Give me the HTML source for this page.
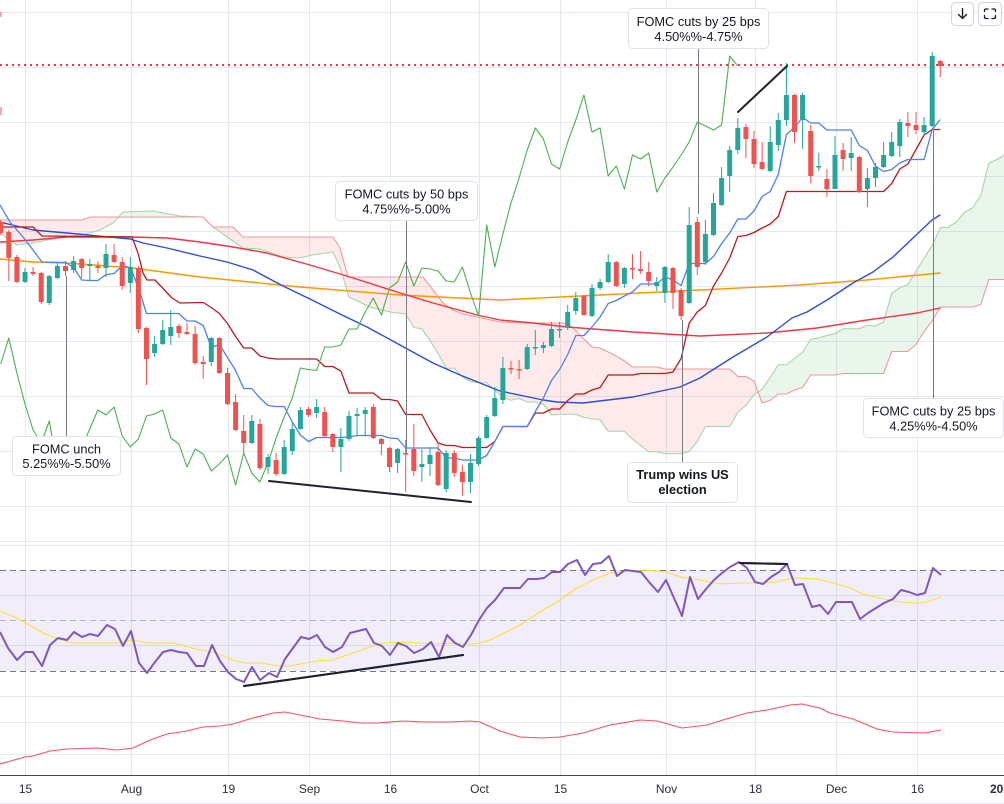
<!DOCTYPE html>
<html><head><meta charset="utf-8"><style>
html,body{margin:0;padding:0;background:#fff;}
svg{display:block;}
text{font-family:"Liberation Sans",Arial,sans-serif;}
</style></head><body>
<svg width="1004" height="804" viewBox="0 0 1004 804" xmlns="http://www.w3.org/2000/svg">
<defs>
<clipPath id="belowB"><polygon points="0,220 82,220 90,217 120,217 203,217 213,227 233,227 243,237 333,237 340,248 348,277 423,277 433,290 443,303 453,310 463,314 500,322 527,323 563,323 572,327 582,337 592,347 600,348 608.2,352 616.3,356 624.4,361 632.5,367 656.8,367 664.9,369 729.7,369 737.8,376.5 745.9,376.5 754,381 762.1,403 770.2,400.5 778.3,394 786.4,394 794.5,390 802.6,387.5 810.7,375 835,375 843.1,373.5 883.6,373.5 891.7,351.5 907.9,351.5 916,344.5 924.1,331.5 932.2,321 940.3,307 972.7,307 980.8,304.5 988.9,279.5 1005,279.5 1005,804 0,804"/></clipPath>
<clipPath id="aboveB"><polygon points="0,220 82,220 90,217 120,217 203,217 213,227 233,227 243,237 333,237 340,248 348,277 423,277 433,290 443,303 453,310 463,314 500,322 527,323 563,323 572,327 582,337 592,347 600,348 608.2,352 616.3,356 624.4,361 632.5,367 656.8,367 664.9,369 729.7,369 737.8,376.5 745.9,376.5 754,381 762.1,403 770.2,400.5 778.3,394 786.4,394 794.5,390 802.6,387.5 810.7,375 835,375 843.1,373.5 883.6,373.5 891.7,351.5 907.9,351.5 916,344.5 924.1,331.5 932.2,321 940.3,307 972.7,307 980.8,304.5 988.9,279.5 1005,279.5 1005,0 0,0"/></clipPath>
<clipPath id="belowA"><polygon points="0,233 17,245 33,243 57,238 82,235 100,230 113,223 123,212 153,211 180,216 203,217 213,227 243,248 260,249 283,257 300,258 312,255 333,252 340,267 349,297 370,307 390,312 397.6,313 405.7,314 413.8,327.5 421.9,329 430,340.5 438.1,353.5 446.2,368.25 454.3,368.25 462.4,377 470.5,381.75 478.6,382.75 486.7,382.75 494.8,390.5 502.9,397 511,400.25 519.1,398.25 527.2,402 535.3,402 543.4,404.25 551.5,415 559.6,414.25 567.7,414.25 575.8,414.25 583.9,417.5 592,418.75 600.1,419.75 608.2,431.25 616.3,431.25 624.4,431.25 632.5,439 640.6,445.5 648.7,451.75 656.8,451.75 664.9,453.75 673,453.75 681.1,453.75 689.2,451.5 697.3,441.5 705.4,426.5 713.5,426.5 721.6,426.5 729.7,426.5 737.8,412.25 745.9,405.5 754,394.75 762.1,389.25 770.2,377.5 778.3,364.75 786.4,364.75 794.5,358.5 802.6,352.25 810.7,339.25 818.8,337.75 826.9,335.5 835,333.5 843.1,328.75 851.2,328.75 859.3,328.75 867.4,325.25 875.5,326 883.6,322 891.7,293.25 899.8,287.75 907.9,284.5 916,271.25 924.1,258.25 932.2,245.5 940.3,227.75 948.4,227.25 956.5,221.75 964.6,212.25 972.7,207.75 980.8,195.5 988.9,163 997,159.5 1005.1,154.5 1005,804 0,804"/></clipPath>
<clipPath id="aboveA"><polygon points="0,233 17,245 33,243 57,238 82,235 100,230 113,223 123,212 153,211 180,216 203,217 213,227 243,248 260,249 283,257 300,258 312,255 333,252 340,267 349,297 370,307 390,312 397.6,313 405.7,314 413.8,327.5 421.9,329 430,340.5 438.1,353.5 446.2,368.25 454.3,368.25 462.4,377 470.5,381.75 478.6,382.75 486.7,382.75 494.8,390.5 502.9,397 511,400.25 519.1,398.25 527.2,402 535.3,402 543.4,404.25 551.5,415 559.6,414.25 567.7,414.25 575.8,414.25 583.9,417.5 592,418.75 600.1,419.75 608.2,431.25 616.3,431.25 624.4,431.25 632.5,439 640.6,445.5 648.7,451.75 656.8,451.75 664.9,453.75 673,453.75 681.1,453.75 689.2,451.5 697.3,441.5 705.4,426.5 713.5,426.5 721.6,426.5 729.7,426.5 737.8,412.25 745.9,405.5 754,394.75 762.1,389.25 770.2,377.5 778.3,364.75 786.4,364.75 794.5,358.5 802.6,352.25 810.7,339.25 818.8,337.75 826.9,335.5 835,333.5 843.1,328.75 851.2,328.75 859.3,328.75 867.4,325.25 875.5,326 883.6,322 891.7,293.25 899.8,287.75 907.9,284.5 916,271.25 924.1,258.25 932.2,245.5 940.3,227.75 948.4,227.25 956.5,221.75 964.6,212.25 972.7,207.75 980.8,195.5 988.9,163 997,159.5 1005.1,154.5 1005,0 0,0"/></clipPath>
</defs>
<rect x="0" y="0" width="1004" height="804" fill="#fff"/>

<!-- grid -->
<g stroke="#e3e9f0" stroke-width="1">
<path d="M25.5 0V775 M131.5 0V775 M228.5 0V775 M309.5 0V775 M390.5 0V775 M479.5 0V775 M560.5 0V775 M666.5 0V775 M755.5 0V775 M836.5 0V775 M917.5 0V775"/>
<path d="M0 12.5H1004 M0 67.5H1004 M0 122.5H1004 M0 176.5H1004 M0 231.5H1004 M0 286.5H1004 M0 341.5H1004 M0 396.5H1004 M0 451.5H1004 M0 506.5H1004 M0 541.5H1004 M0 545.5H1004 M0 595.5H1004 M0 645.5H1004 M0 696.5H1004 M0 722.5H1004 M0 754.5H1004 M0 803.5H1004"/>
</g>

<!-- RSI band -->
<rect x="0" y="570" width="1004" height="101" fill="#7e57c2" fill-opacity="0.1"/>
<g stroke-width="1" stroke-dasharray="6,4" fill="none">
<path d="M0 570.5H1004" stroke="#787b86"/>
<path d="M0 620.5H1004" stroke="#b2b5be"/>
<path d="M0 671.5H1004" stroke="#787b86"/>
</g>

<!-- cloud fills -->
<g clip-path="url(#belowB)"><rect x="0" y="0" width="1005" height="540" fill="#f23645" fill-opacity="0.11" clip-path="url(#aboveA)"/></g>
<g clip-path="url(#belowA)"><rect x="0" y="0" width="1005" height="540" fill="#43a047" fill-opacity="0.11" clip-path="url(#aboveB)"/></g>
<g fill="none" stroke-width="1.1" stroke-linejoin="round">
<polyline stroke="#a5d6a7" points="0,233 17,245 33,243 57,238 82,235 100,230 113,223 123,212 153,211 180,216 203,217 213,227 243,248 260,249 283,257 300,258 312,255 333,252 340,267 349,297 370,307 390,312 397.6,313 405.7,314 413.8,327.5 421.9,329 430,340.5 438.1,353.5 446.2,368.25 454.3,368.25 462.4,377 470.5,381.75 478.6,382.75 486.7,382.75 494.8,390.5 502.9,397 511,400.25 519.1,398.25 527.2,402 535.3,402 543.4,404.25 551.5,415 559.6,414.25 567.7,414.25 575.8,414.25 583.9,417.5 592,418.75 600.1,419.75 608.2,431.25 616.3,431.25 624.4,431.25 632.5,439 640.6,445.5 648.7,451.75 656.8,451.75 664.9,453.75 673,453.75 681.1,453.75 689.2,451.5 697.3,441.5 705.4,426.5 713.5,426.5 721.6,426.5 729.7,426.5 737.8,412.25 745.9,405.5 754,394.75 762.1,389.25 770.2,377.5 778.3,364.75 786.4,364.75 794.5,358.5 802.6,352.25 810.7,339.25 818.8,337.75 826.9,335.5 835,333.5 843.1,328.75 851.2,328.75 859.3,328.75 867.4,325.25 875.5,326 883.6,322 891.7,293.25 899.8,287.75 907.9,284.5 916,271.25 924.1,258.25 932.2,245.5 940.3,227.75 948.4,227.25 956.5,221.75 964.6,212.25 972.7,207.75 980.8,195.5 988.9,163 997,159.5 1005.1,154.5"/>
<polyline stroke="#ef9a9a" points="0,220 82,220 90,217 120,217 203,217 213,227 233,227 243,237 333,237 340,248 348,277 423,277 433,290 443,303 453,310 463,314 500,322 527,323 563,323 572,327 582,337 592,347 600,348 608.2,352 616.3,356 624.4,361 632.5,367 656.8,367 664.9,369 729.7,369 737.8,376.5 745.9,376.5 754,381 762.1,403 770.2,400.5 778.3,394 786.4,394 794.5,390 802.6,387.5 810.7,375 835,375 843.1,373.5 883.6,373.5 891.7,351.5 907.9,351.5 916,344.5 924.1,331.5 932.2,321 940.3,307 972.7,307 980.8,304.5 988.9,279.5 1005,279.5"/>
</g>

<!-- moving averages -->
<g fill="none" stroke-width="1.4" stroke-linejoin="round" stroke-linecap="round">
<polyline stroke="#ff9800" points="0,259 33,262 67,263 133,268 200,277 300,287 400,295 500,300 600,295 700,290 800,285 867,280 940,273"/>
<polyline stroke="#f23645" points="0,242 33,240 67,237 130,237 167,238 200,242 233,247 267,253 310,265 350,277 400,293 433,303 477,315 500,320 533,323 567,327 633,332 700,336 767,333 817,328 867,320 917,313 940,308"/>
<polyline stroke="#2b4ed8" points="0,222 33,230 67,233 130,239 143,243 167,248 200,256 227,262 253,270 283,286 312,300 340,314 367,327 400,345 433,363 460,375 480,383 500,391 543,400 557,402 583,403 633,397 680,387 700,378 733,357 767,337 792,318 807,312 827,300 853,283 873,272 893,257 913,238 932,220 940,215"/>
</g>

<!-- ichimoku lines -->
<g fill="none" stroke-width="1.3" stroke-linejoin="round">
<polyline stroke="#b71c1c" points="0,227 33,227 42,236 132,237 138,253 143,273 147,280 155,280 172,298 180,303 203.2,302.5 211.3,307.5 219.4,313.5 227.5,323.5 235.6,336.5 243.7,348 251.8,348 259.9,356 268,358 276.1,359 316.6,359 324.7,366.5 332.8,366.5 340.9,371 349,393 373.3,393 381.4,399.5 389.5,399.5 397.6,401 405.7,414.5 421.9,414.5 430,430 438.1,443 446.2,445.5 454.3,445.5 462.4,447.5 486.7,447.5 494.8,441.5 502.9,426.5 527.2,426.5 535.3,413 543.4,413 551.5,409 559.6,409 567.7,400.5 575.8,394 583.9,394 592,390 600.1,387.5 608.2,375 632.5,375 640.6,373.5 664.9,373.5 673,372 681.1,358.5 689.2,323 697.3,312 705.4,305.5 713.5,286 721.6,273 729.7,258 737.8,236.5 745.9,235.5 754,232.5 762.1,228 770.2,224 778.3,216.5 786.4,191.5 883.6,191.5 891.7,183.5 899.8,169 907.9,164 916,149.5 924.1,135 932.2,129.5 940.3,129.5"/>
<polyline stroke="#4f7ff5" points="0,205 10,222 23,237 33,250 42,262 65.5,262.5 73.6,267.5 81.7,280 89.8,280.5 97.9,280.5 106,274.5 114.1,273.5 122.2,266 130.3,267.5 138.4,287.5 146.5,313.5 178.9,313.5 187,321 195.1,321 203.2,325.5 211.3,347.5 219.4,344.5 227.5,357.5 235.6,370.5 243.7,388.5 251.8,388.5 259.9,398 268,405.5 276.1,406.5 284.2,406.5 292.3,422 300.4,435 308.5,441.5 316.6,437.5 340.9,437.5 349,437 357.1,435.5 381.4,435.5 389.5,438 397.6,438.5 405.7,448 438.1,448 446.2,458 454.3,458 462.4,460 478.6,460 486.7,455.5 494.8,441.5 502.9,426.5 527.2,426.5 535.3,411.5 543.4,398 551.5,380.5 559.6,369.5 567.7,354.5 575.8,335.5 583.9,335.5 592,327 600.1,317 608.2,303.5 616.3,300.5 624.4,296 632.5,292 640.6,284 656.8,284 664.9,277 673,280 681.1,285.5 689.2,263.5 705.4,263.5 713.5,256.5 721.6,243.5 729.7,233 737.8,219 745.9,219 754,211 762.1,196.5 770.2,191.5 778.3,174.5 786.4,134.5 794.5,127.5 802.6,117.5 810.7,123 818.8,123 826.9,130 851.2,130 859.3,145.5 867.4,150.5 875.5,166 883.6,171.5 891.7,169.5 899.8,163 907.9,159.5 924.1,159.5 932.2,129.5 940.3,119.5"/>
<polyline stroke="#4caf50" stroke-width="1.1" points="0.7,364 8.8,338 16.9,373 25,404 33.1,430 41.2,443 49.3,421 57.4,468 65.5,457 73.6,474 81.7,447 89.8,429 97.9,410 106,415 114.1,407 122.2,436 130.3,447 138.4,439 146.5,416 154.6,414 162.7,410 170.8,438 178.9,444 187,467 195.1,449 203.2,454 211.3,471 219.4,464 227.5,455 235.6,485 243.7,453 251.8,473 259.9,482 268,463 276.1,438 284.2,417 292.3,398 300.4,368 308.5,369.5 316.6,370.5 324.7,347 332.8,347 340.9,345 349,329 357.1,329 365.2,312 373.3,298 381.4,315 389.5,288 397.6,282 405.7,262 413.8,286 421.9,268 430,269 438.1,271 446.2,281 454.3,282 462.4,267 470.5,293 478.6,316 486.7,225 494.8,267 502.9,234 511,203 519.1,178 527.2,150 535.3,128 543.4,139 551.5,164 559.6,169 567.7,142 575.8,120 583.9,95 592,132 600.1,128 608.2,176 616.3,166 624.4,189 632.5,155 640.6,159 648.7,153 656.8,192 664.9,178 673,167 681.1,155 689.2,142 697.3,122 705.4,126 713.5,130 721.6,125 729.7,56 737.8,66"/>
</g>

<!-- price line -->
<path d="M0 65H1004" stroke="#f23645" stroke-width="2" stroke-dasharray="2,4"/>
<rect x="0" y="12" width="2" height="5" fill="#f7a8ae"/>
<rect x="0" y="107" width="2" height="8" fill="#f7a8ae"/>

<!-- candles -->
<g fill="none">
<path stroke="#26a69a" stroke-width="1" d="M25 268V283 M49.3 275V305 M57.4 262V279 M73.6 256V273 M89.8 259V280 M106 244V277 M130.3 257V293 M154.6 336V357 M162.7 320V345 M170.8 310V345 M211.3 337V366 M251.8 415V444 M268 454V474 M284.2 440V475 M292.3 423V455 M300.4 407V430 M316.6 399V418 M340.9 428V472 M349 411V441 M357.1 408V435 M365.2 407V435 M397.6 448V473 M421.9 449V482 M430 447V476 M446.2 450V492 M470.5 454V493 M478.6 436V466 M486.7 415V439 M494.8 387V417 M502.9 357V404 M527.2 344V370 M535.3 330V355 M543.4 342V353 M551.5 322V347 M559.6 322V338 M567.7 305V330 M575.8 292V315 M592 284V317 M600.1 279V290 M608.2 254V283 M624.4 267V288 M656.8 277V291 M664.9 266V303 M689.2 207V304 M705.4 220V265 M713.5 193V236 M721.6 167V206 M729.7 146V192 M737.8 118V154 M770.2 126V172 M778.3 113V151 M786.4 63V126 M802.6 93V149 M818.8 153V171 M835 136V189 M851.2 137V171 M867.4 168V207 M875.5 163V187 M883.6 142V168 M891.7 132V157 M899.8 119V157 M924.1 117V137 M932.2 52V127"/>
<path stroke="#26a69a" stroke-width="5" d="M25 272V282 M49.3 276V303 M57.4 266V278 M73.6 261V270 M89.8 264V266 M106 254V268 M130.3 267V283 M154.6 344V353 M162.7 330V344 M170.8 327V336 M211.3 338V362 M251.8 421V443 M268 457V467 M284.2 447V474 M292.3 429V451 M300.4 410V429 M316.6 407V413 M340.9 439V447 M349 416V439 M357.1 414V416 M365.2 410V414 M397.6 449V463 M421.9 464V467 M430 455V464 M446.2 453V489 M470.5 463V482 M478.6 438V464 M486.7 417V438 M494.8 398V416 M502.9 368V400 M527.2 347V369 M535.3 347V348.5 M543.4 345V348 M551.5 329V346 M559.6 329V330.5 M567.7 312V327 M575.8 298V311 M592 288V316 M600.1 282V288 M608.2 262V282 M624.4 268V284 M656.8 282V286 M664.9 267V293 M689.2 225V303 M705.4 234V262 M713.5 203V235 M721.6 178V205 M729.7 150V176 M737.8 128V150 M770.2 142V171 M778.3 120V145 M786.4 95V120 M802.6 95V120 M818.8 166V167.5 M835 155V189 M851.2 153V158 M867.4 178V189 M875.5 167V178 M883.6 155V167 M891.7 142V156 M899.8 122V146 M924.1 125V132 M932.2 56V126"/>
<path stroke="#ef5350" stroke-width="1" d="M0.7 220V235 M8.8 230V281 M16.9 255V283 M33.1 267V276 M41.2 272V304 M65.5 261V276 M81.7 258V278 M97.9 261V273 M114.1 244V263 M122.2 257V290 M138.4 266V333 M146.5 327V385 M178.9 324V338 M187 323V335 M195.1 326V365 M203.2 356V379 M219.4 337V374 M227.5 368V405 M235.6 394V431 M243.7 415V454 M259.9 419V470 M276.1 453V476 M308.5 407V417 M324.7 407V437 M332.8 433V452 M373.3 404V439 M381.4 438V455 M389.5 447V472 M405.7 440V492 M413.8 424V476 M438.1 443V486 M454.3 450V477 M462.4 465V496 M511 361V374 M519.1 360V379 M583.9 295V316 M616.3 261V287 M632.5 254V279 M640.6 251V274 M648.7 262V286 M673 267V309 M681.1 288V320 M697.3 217V275 M745.9 124V158 M754 131V168 M762.1 142V170 M794.5 94V143 M810.7 125V183 M826.9 169V197 M843.1 143V171 M859.3 156V193 M907.9 112V137 M916 112V134 M940.3 60V77"/>
<path stroke="#ef5350" stroke-width="5" d="M0.7 222V233 M8.8 232V258 M16.9 257V282 M33.1 272V274 M41.2 273V302 M65.5 266V271 M81.7 259V268 M97.9 266V268 M114.1 255V262 M122.2 262V286 M138.4 268V329 M146.5 328V359 M178.9 326V333 M187 332V334 M195.1 334V363 M203.2 362V364 M219.4 338V373 M227.5 373V404 M235.6 402V430 M243.7 431V443 M259.9 424V468 M276.1 460V474 M308.5 409V415 M324.7 412V436 M332.8 434V447 M373.3 407V438 M381.4 439V444 M389.5 448V467 M405.7 453V454.5 M413.8 449V471 M438.1 452V485 M454.3 453V473 M462.4 472V482 M511 368V369.5 M519.1 369V370.5 M583.9 296V315 M616.3 262V286 M632.5 268V269.5 M640.6 269V271 M648.7 272V281 M673 268V293 M681.1 290V316 M697.3 222V267 M745.9 127V139 M754 139V164 M762.1 162V169 M794.5 95V132 M810.7 131V176 M826.9 179V189 M843.1 150V159 M859.3 157V192 M907.9 123V126 M916 125V130 M940.3 61V66"/>
</g>

<!-- trend lines -->
<g stroke="#1e222d" stroke-width="2" stroke-linecap="round">
<line x1="269" y1="481" x2="471" y2="502"/>
<line x1="738" y1="112" x2="787" y2="66"/>
<line x1="244" y1="686" x2="463" y2="655"/>
<line x1="740" y1="563" x2="787" y2="564"/>
</g>

<!-- annotation lines -->
<g stroke="#787b86" stroke-width="1">
<path d="M406.5 220V453 M698.5 48V214 M66.5 276V436 M682.5 320V462 M933.5 127V398"/>
</g>

<!-- annotation boxes -->
<g fill="#fff" stroke="#e0e3eb" stroke-width="1">
<rect x="335.5" y="181.5" width="142" height="39" rx="4"/>
<rect x="628.5" y="8.5" width="140" height="40" rx="4"/>
<rect x="12.5" y="436.5" width="108" height="39" rx="4"/>
<rect x="627.5" y="462.5" width="110" height="40" rx="4"/>
<rect x="863.5" y="398.5" width="140" height="39" rx="4"/>
</g>
<g fill="#131722" font-size="12.8" text-anchor="middle">
<text x="406.5" y="198.5">FOMC cuts by 50 bps</text>
<text x="406.5" y="213.5">4.75%%-5.00%</text>
<text x="698.5" y="26">FOMC cuts by 25 bps</text>
<text x="698.5" y="41">4.50%%-4.75%</text>
<text x="66.5" y="453.5">FOMC unch</text>
<text x="66.5" y="468">5.25%%-5.50%</text>
<text x="682.5" y="479" font-weight="bold">Trump wins US</text>
<text x="682.5" y="494" font-weight="bold">election</text>
<text x="933.5" y="415.5">FOMC cuts by 25 bps</text>
<text x="933.5" y="430.5">4.25%%-4.50%</text>
</g>

<!-- RSI pane lines -->
<g fill="none" stroke-linejoin="round">
<polyline stroke="#f7525f" stroke-width="1.1" points="0,764 25,757 33,756 50,751 67,749 97,748 117,750 133,748 150,740 167,734 187,731 203,727 220,726 233,724 253,718 273,713 285,712 300,715 320,719 343,721 360,723 377,723 403,721 427,722 450,722 470,721 480,722 500,731 520,737 543,738 560,737 583,733 610,725 640,720 657,721 682,728 707,725 723,720 747,713 767,710 790,705 802,704 820,708 830,713 853,719 877,729 893,732 925,733 941,730"/>
<polyline stroke="#fbdf3c" stroke-width="1.1" points="0,611 17,618 33,627 43,633 58,639 73,643 117,643 133,640 147,643 173,643 200,650 217,653 233,660 245,663 263,663 277,666 290,666 300,664 317,661 333,660 347,655 367,648 383,643 400,642 417,643 433,644 450,643 473,644 480,643 490,640 500,635 520,625 543,610 557,602 577,588 593,580 610,573 627,571 647,570 667,572 680,577 700,580 720,584 740,583 763,583 777,582 793,578 817,579 833,583 850,588 863,594 883,599 900,602 917,603 927,602 941,597"/>
<polyline stroke="#7e57c2" stroke-width="2" points="0,632 8,648 17,660 25,652 33,652 42,666 50,645 58,638 67,640 74,632 82,637 90,634 98,636 107,625 115,629 123,646 131,631 139,663 147,673 155,662 163,652 171,650 179,652 187,653 196,666 204,666 212,645 220,661 228,672 236,679 244,682 252,667 260,680 269,673 277,677 285,659 293,648 301,637 309,639 317,635 325,647 333,652 342,647 350,633 358,631 366,629 374,643 382,646 390,655 398,643 406,646 414,653 423,649 431,642 439,657 447,635 455,643 463,647 471,635 479,620 487,608 495,600 504,588 520,588 528,579 537,579 544,578 552,572 560,572 568,564 577,560 585,575 593,564 601,563 609,556 617,576 625,570 633,571 641,572 649,582 658,592 666,580 674,598 682,616 690,577 698,599 706,589 714,580 722,573 730,567 739,562 747,568 755,582 763,584 771,577 779,572 787,564 795,585 803,584 812,607 820,605 828,614 836,602 844,602 852,602 860,619 868,613 876,608 884,603 893,599 901,590 909,592 917,595 925,593 933,568 941,575"/>
</g>
<g stroke="#1e222d" stroke-width="2" stroke-linecap="round">
<line x1="244" y1="686" x2="463" y2="655"/>
<line x1="740" y1="563" x2="787" y2="564"/>
</g>

<!-- time axis -->
<path d="M0 775.5H1004" stroke="#434651" stroke-width="1"/>
<g fill="#2a2e39" font-size="12" text-anchor="middle">
<text x="25.5" y="793">15</text>
<text x="131.5" y="793">Aug</text>
<text x="228.5" y="793">19</text>
<text x="309.5" y="793">Sep</text>
<text x="390.5" y="793">16</text>
<text x="479.5" y="793">Oct</text>
<text x="560.5" y="793">15</text>
<text x="666.5" y="793">Nov</text>
<text x="755.5" y="793">18</text>
<text x="836.5" y="793">Dec</text>
<text x="917.5" y="793">16</text>
<text x="990" y="793" text-anchor="start" font-weight="bold">2025</text>
</g>

<!-- buttons -->
<g fill="#fff" stroke="#d1d4dc" stroke-width="1">
<rect x="951.5" y="2.5" width="22" height="23" rx="4"/>
<rect x="978.5" y="2.5" width="23" height="23" rx="4"/>
</g>
<g fill="none" stroke="#131722" stroke-width="1.3" stroke-linecap="round" stroke-linejoin="round">
<path d="M962.5 8.5V18.5 M958.5 14.5L962.5 18.5L966.5 14.5"/>
<path d="M984.5 11.5V10.5Q984.5 9 986 9H988 M992 9H994Q995.5 9 995.5 10.5V11.5 M995.5 15.5V17Q995.5 18.5 994 18.5H992 M988 18.5H986Q984.5 18.5 984.5 17V15.5"/>
</g>
</svg>
</body></html>
